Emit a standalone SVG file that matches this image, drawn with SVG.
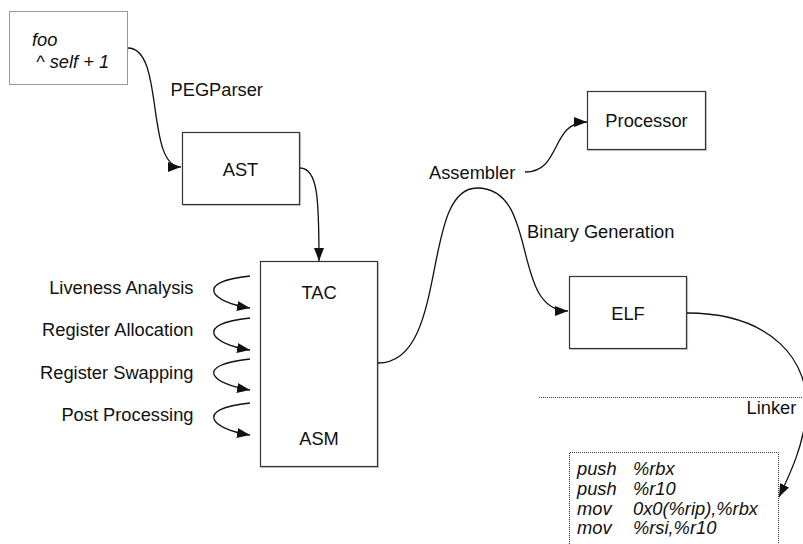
<svg xmlns="http://www.w3.org/2000/svg" width="803" height="544" viewBox="0 0 803 544">
<style>
.box{fill:#fff;stroke:#333;stroke-width:1.2}
.shadow{fill:none;stroke:#ccc;stroke-width:1.2}
.dot{fill:#fff;stroke:#333;stroke-width:1;stroke-dasharray:1 1}
.t{font-family:"Liberation Sans",Arial,sans-serif;font-size:18.3px;fill:#111}
.c{text-anchor:middle}
.e{text-anchor:end}
.i{font-style:italic}
.edge{fill:none;stroke:#111;stroke-width:1.3}
</style>
<defs>
<marker id="arr" viewBox="0 0 13 10" refX="13" refY="5" markerWidth="13" markerHeight="10" markerUnits="userSpaceOnUse" orient="auto">
<path d="M0,0 L13,5 L0,10 Z" fill="#111"/>
</marker>
</defs>
<g id="source">
<rect class="dot" x="9.5" y="11.5" width="118" height="73"/>
<text class="t i" x="32" y="46">foo</text>
<text class="t i" x="36" y="68">^ self + 1</text>
</g>
<g id="ast">
<rect class="shadow" x="183.5" y="133.5" width="117" height="72"/>
<rect class="box" x="182.5" y="132.5" width="117" height="72"/>
<text class="t c" x="240.5" y="175.5">AST</text>
</g>
<g id="tac">
<rect class="shadow" x="261.5" y="262.5" width="117" height="205"/>
<rect class="box" x="260.5" y="261.5" width="117" height="205"/>
<text class="t c" x="319" y="298.5">TAC</text>
<text class="t c" x="319" y="444.5">ASM</text>
</g>
<g id="processor">
<rect class="shadow" x="588.5" y="92.5" width="118" height="58"/>
<rect class="box" x="587.5" y="91.5" width="118" height="58"/>
<text class="t c" x="646.5" y="127">Processor</text>
</g>
<g id="elf">
<rect class="shadow" x="570.5" y="277.5" width="117" height="72"/>
<rect class="box" x="569.5" y="276.5" width="117" height="72"/>
<text class="t c" x="628" y="320">ELF</text>
</g>
<g id="code">
<path d="M569.5,544 V452.5 H778.5 V544" class="dot"/>
<text class="t i" x="577" y="475">push</text>
<text class="t i" x="633" y="475">%rbx</text>
<text class="t i" x="577" y="495">push</text>
<text class="t i" x="633" y="495">%r10</text>
<text class="t i" x="577" y="515">mov</text>
<text class="t i" x="633" y="515">0x0(%rip),%rbx</text>
<text class="t i" x="577" y="534">mov</text>
<text class="t i" x="633" y="534">%rsi,%r10</text>
</g>
<g id="divider">
<line x1="539" y1="397.5" x2="803" y2="397.5" stroke="#444" stroke-width="1" stroke-dasharray="1 1"/>
</g>
<g id="connectors">
<path class="edge" marker-end="url(#arr)" d="M128,48 C165,48 145,167 181,167"/>
<path class="edge" marker-end="url(#arr)" d="M300,168 C318,168 319,200 319,261"/>
<path class="edge" marker-end="url(#arr)" d="M378,363 C450,363 420,188 477,188 C540,188 510,311 568,311"/>
<path class="edge" marker-end="url(#arr)" d="M525,172 C562,172 550,122 587,122"/>
<path class="edge" marker-end="url(#arr)" d="M687,313 C770,313 812,360 806,415 C803,445 792,470 779,497"/>
<path class="edge" marker-end="url(#arr)" d="M250,276 C193,282 211,302 250,308"/>
<path class="edge" marker-end="url(#arr)" d="M250,318 C193,324 211,344 250,350"/>
<path class="edge" marker-end="url(#arr)" d="M250,359 C193,365 211,384 250,390"/>
<path class="edge" marker-end="url(#arr)" d="M250,403 C193,409 211,429 250,435"/>
</g>
<g id="labels">
<text class="t" x="170.5" y="96">PEGParser</text>
<text class="t" x="429" y="179">Assembler</text>
<text class="t" x="527" y="238">Binary Generation</text>
<text class="t" x="746.5" y="414">Linker</text>
<text class="t e" x="193.5" y="294">Liveness Analysis</text>
<text class="t e" x="193.5" y="336">Register Allocation</text>
<text class="t e" x="193.5" y="378.5">Register Swapping</text>
<text class="t e" x="193.5" y="421">Post Processing</text>
</g>
</svg>
